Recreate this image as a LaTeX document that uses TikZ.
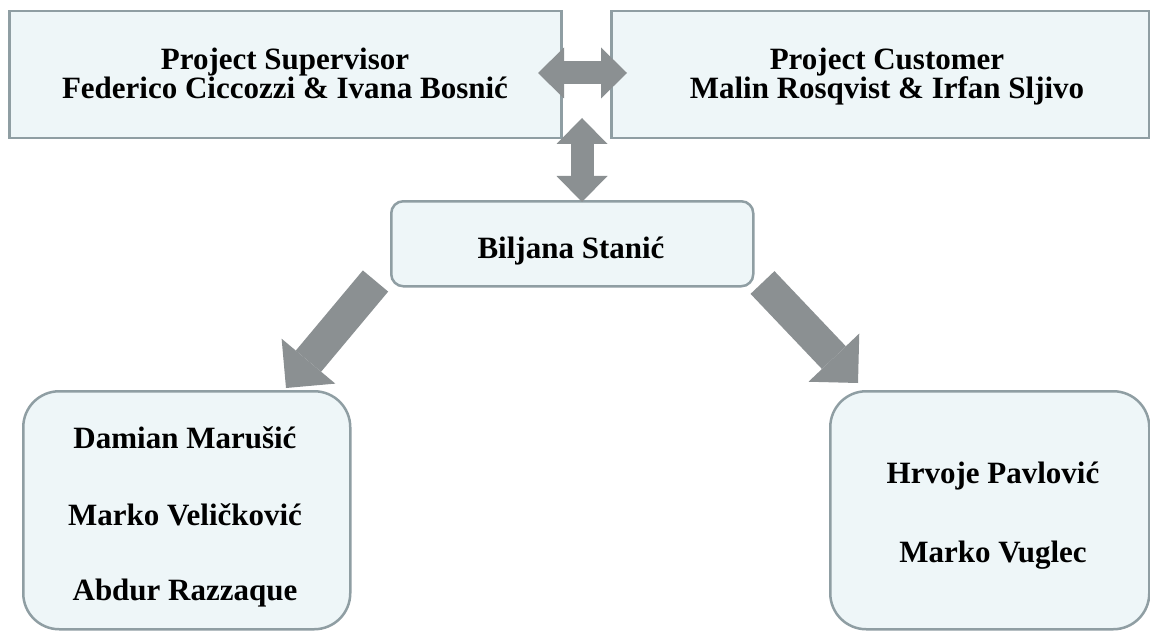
\documentclass[tikz,border=0pt]{standalone}
\usepackage{fontspec}
\setmainfont{Liberation Serif}
\usetikzlibrary{arrows.meta}
\definecolor{boxfill}{RGB}{238,246,248}
\definecolor{boxline}{RGB}{143,158,163}
\definecolor{arrowgray}{RGB}{139,144,146}
\begin{document}
\begin{tikzpicture}[x=1pt,y=-1pt,
  sqbox/.style={draw=boxline, fill=boxfill, line width=2.5pt, inner sep=0pt, anchor=north west},
  rbox/.style={sqbox, rounded corners=#1},
  txt/.style={font=\fontsize{31}{31}\selectfont\bfseries, anchor=base, inner sep=0pt},
  txttwo/.style={font=\fontsize{31}{28}\selectfont\bfseries, align=center, inner sep=0pt},
  dblarrow/.style={draw=arrowgray, line width=23pt,
    {Triangle[width=51pt,length=26pt,line width=0pt]}-{Triangle[width=51pt,length=26pt,line width=0pt]}},
  bigarrow/.style={draw=arrowgray, line width=33pt,
    -{Triangle[width=70pt,length=35pt,line width=0pt]}}]
\useasboundingbox (0,0) rectangle (1150,631);
\fill[white] (0,0) rectangle (1150,631);

% boxes
\node[sqbox, minimum width=552pt, minimum height=127pt] (sup) at (8,10) {};
\node[sqbox, minimum width=538pt, minimum height=127pt] (cus) at (610,10) {};
\node[rbox=12pt, minimum width=362pt, minimum height=85pt] (bil) at (390,200) {};
\node[rbox=36pt, minimum width=327pt, minimum height=238pt] (left) at (22,390) {};
\node[rbox=36pt, minimum width=319pt, minimum height=238pt] (right) at (829,390) {};

% texts
\node[txttwo] (supt) at (285,73.5) {Project Supervisor\\Federico Ciccozzi \& Ivana Bosnić};
\node[txttwo] (cust) at (887,76.7) {Project Customer\\Malin Rosqvist \& Irfan Sljivo};
\node[txt] (bilt) at (571,258) {Biljana Stanić};
\node[txt] (l1) at (185,448) {Damian Marušić};
\node[txt] (l2) at (185,525) {Marko Veličković};
\node[txt] (l3) at (185,600) {Abdur Razzaque};
\node[txt] (r1) at (993,483) {Hrvoje Pavlović};
\node[txt] (r2) at (993,562) {Marko Vuglec};

% connector end points
\coordinate (hL) at (538,73);
\coordinate (hR) at (627,73);
\coordinate (vT) at (582,118);
\coordinate (vB) at (582,202);
\coordinate (laT) at (375.5,281);
\coordinate (laH) at (286,388);
\coordinate (raT) at (762.5,282.5);
\coordinate (raH) at (858,383);

% arrows
\draw[dblarrow] (hL) -- (hR);
\draw[dblarrow] (vT) -- (vB);
\draw[bigarrow] (laT) -- (laH);
\draw[bigarrow] (raT) -- (raH);
\end{tikzpicture}
\end{document}
